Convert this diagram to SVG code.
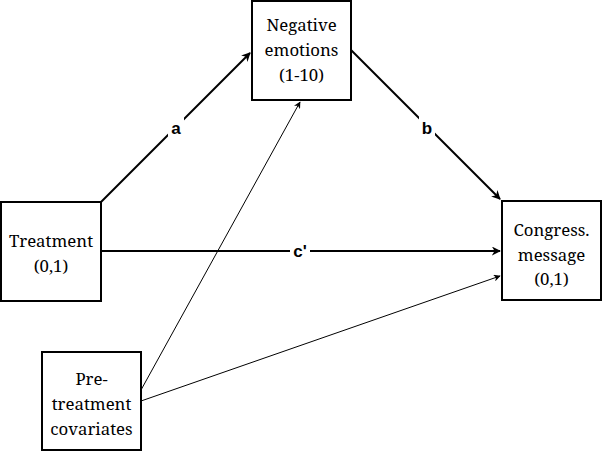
<svg xmlns="http://www.w3.org/2000/svg" width="602" height="452" viewBox="0 0 602 452">
<style>
.box{fill:#fff;stroke:#000;stroke-width:2}
.t{font-family:"Noto Serif","DejaVu Serif",serif;font-size:16.8px;text-anchor:middle;fill:#000}
.lbl{font-family:"Liberation Sans",Arial,sans-serif;font-size:17px;font-weight:bold;text-anchor:middle;fill:#000}
.thick{stroke:#000;stroke-width:2;fill:none}
.thin{stroke:#000;stroke-width:1;fill:none}
</style>
<defs>
<marker id="ah" viewBox="0 0 10 10" refX="9" refY="5" markerWidth="7" markerHeight="7" markerUnits="userSpaceOnUse" orient="auto"><path d="M0,0 L10,5 L0,10 L3,5 Z" fill="#000"/></marker>
<marker id="ah2" viewBox="0 0 10 10" refX="9" refY="5" markerWidth="9" markerHeight="9" markerUnits="userSpaceOnUse" orient="auto"><path d="M0,0 L10,5 L0,10 L3,5 Z" fill="#000"/></marker>
</defs>
<g id="connectors">
<path class="thick" d="M101,202 L250,53" marker-end="url(#ah2)"/>
<path class="thick" d="M351,50 L500,199" marker-end="url(#ah2)"/>
<path class="thick" d="M101,251 L500,251" marker-end="url(#ah2)"/>
<path class="thin" d="M141,390 L300,102" marker-end="url(#ah)"/>
<path class="thin" d="M141,401 L500,276" marker-end="url(#ah)"/>
<rect x="168" y="116" width="16" height="22" fill="#fff"/>
<text class="lbl" x="176" y="134">a</text>
<rect x="419" y="116" width="16" height="22" fill="#fff"/>
<text class="lbl" x="427" y="134">b</text>
<rect x="290" y="240" width="20" height="22" fill="#fff"/>
<text class="lbl" x="300" y="257">c'</text>
</g>
<g id="negative">
<rect class="box" x="252" y="1" width="99" height="99"/>
<text class="t" x="301.5" y="31">Negative</text>
<text class="t" x="301.5" y="56">emotions</text>
<text class="t" x="301.5" y="81">(1-10)</text>
</g>
<g id="treatment">
<rect class="box" x="1" y="202" width="100" height="99"/>
<text class="t" x="51" y="247">Treatment</text>
<text class="t" x="51" y="272">(0,1)</text>
</g>
<g id="congress">
<rect class="box" x="502" y="201" width="99" height="99"/>
<text class="t" x="551.5" y="236">Congress.</text>
<text class="t" x="551.5" y="261">message</text>
<text class="t" x="551.5" y="285">(0,1)</text>
</g>
<g id="pretreatment">
<rect class="box" x="42" y="352" width="99" height="98"/>
<text class="t" x="91.5" y="385">Pre-</text>
<text class="t" x="91.5" y="410">treatment</text>
<text class="t" x="91.5" y="435">covariates</text>
</g>
</svg>
